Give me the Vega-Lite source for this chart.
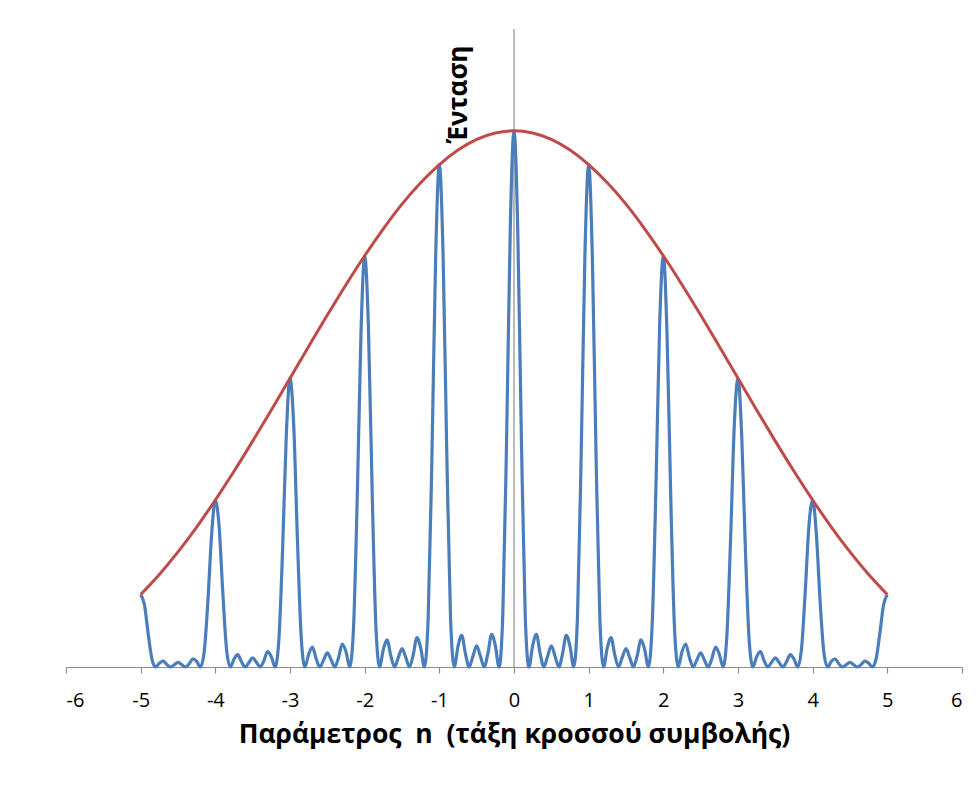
{
  "$schema": "https://vega.github.io/schema/vega-lite/v6.json",
  "width": 896,
  "height": 638,
  "autosize": {"type": "none"},
  "padding": {"left": 66, "top": 29, "right": 15, "bottom": 127},
  "background": "white",
  "config": {"view": {"stroke": null}, "font": "Open Sans"},
  "datasets": {
    "pattern": [
      {"n": -5.00, "I": 0.1351}, {"n": -4.95, "I": 0.1165}, {"n": -4.90, "I": 0.0629}, {"n": -4.85, "I": 0.0153}, {"n": -4.80, "I": 0},
      {"n": -4.75, "I": 0.0069}, {"n": -4.70, "I": 0.0111}, {"n": -4.65, "I": 0.0048}, {"n": -4.60, "I": 0}, {"n": -4.55, "I": 0.0042},
      {"n": -4.50, "I": 0.0086}, {"n": -4.45, "I": 0.0046}, {"n": -4.40, "I": 0}, {"n": -4.35, "I": 0.0061}, {"n": -4.30, "I": 0.0154},
      {"n": -4.25, "I": 0.0104}, {"n": -4.20, "I": 0}, {"n": -4.15, "I": 0.0273}, {"n": -4.10, "I": 0.1220}, {"n": -4.05, "I": 0.2463},
      {"n": -4.00, "I": 0.3114}, {"n": -3.95, "I": 0.2633}, {"n": -3.90, "I": 0.1394}, {"n": -3.85, "I": 0.0333}, {"n": -3.80, "I": 0},
      {"n": -3.75, "I": 0.0146}, {"n": -3.70, "I": 0.0230}, {"n": -3.65, "I": 0.0098}, {"n": -3.60, "I": 0}, {"n": -3.55, "I": 0.0084},
      {"n": -3.50, "I": 0.0169}, {"n": -3.45, "I": 0.0089}, {"n": -3.40, "I": 0}, {"n": -3.35, "I": 0.0115}, {"n": -3.30, "I": 0.0286},
      {"n": -3.25, "I": 0.0192}, {"n": -3.20, "I": 0}, {"n": -3.15, "I": 0.0488}, {"n": -3.10, "I": 0.2157}, {"n": -3.05, "I": 0.4305},
      {"n": -3.00, "I": 0.5386}, {"n": -2.95, "I": 0.4499}, {"n": -2.90, "I": 0.2355}, {"n": -2.85, "I": 0.0557}, {"n": -2.80, "I": 0},
      {"n": -2.75, "I": 0.0239}, {"n": -2.70, "I": 0.0373}, {"n": -2.65, "I": 0.0157}, {"n": -2.60, "I": 0}, {"n": -2.55, "I": 0.0132},
      {"n": -2.50, "I": 0.0263}, {"n": -2.45, "I": 0.0137}, {"n": -2.40, "I": 0}, {"n": -2.35, "I": 0.0174}, {"n": -2.30, "I": 0.0429},
      {"n": -2.25, "I": 0.0285}, {"n": -2.20, "I": 0}, {"n": -2.15, "I": 0.0713}, {"n": -2.10, "I": 0.3123}, {"n": -2.05, "I": 0.6181},
      {"n": -2.00, "I": 0.7671}, {"n": -1.95, "I": 0.6351}, {"n": -1.90, "I": 0.3297}, {"n": -1.85, "I": 0.0774}, {"n": -1.80, "I": 0},
      {"n": -1.75, "I": 0.0327}, {"n": -1.70, "I": 0.0505}, {"n": -1.65, "I": 0.0211}, {"n": -1.60, "I": 0}, {"n": -1.55, "I": 0.0175},
      {"n": -1.50, "I": 0.0345}, {"n": -1.45, "I": 0.0179}, {"n": -1.40, "I": 0}, {"n": -1.35, "I": 0.0224}, {"n": -1.30, "I": 0.0547},
      {"n": -1.25, "I": 0.0361}, {"n": -1.20, "I": 0}, {"n": -1.15, "I": 0.0890}, {"n": -1.10, "I": 0.3869}, {"n": -1.05, "I": 0.7603},
      {"n": -1.00, "I": 0.9371}, {"n": -0.95, "I": 0.7703}, {"n": -0.90, "I": 0.3971}, {"n": -0.85, "I": 0.0925}, {"n": -0.80, "I": 0},
      {"n": -0.75, "I": 0.0386}, {"n": -0.70, "I": 0.0592}, {"n": -0.65, "I": 0.0245}, {"n": -0.60, "I": 0}, {"n": -0.55, "I": 0.0201},
      {"n": -0.50, "I": 0.0394}, {"n": -0.45, "I": 0.0202}, {"n": -0.40, "I": 0}, {"n": -0.35, "I": 0.0250}, {"n": -0.30, "I": 0.0608},
      {"n": -0.25, "I": 0.0398}, {"n": -0.20, "I": 0}, {"n": -0.15, "I": 0.0969}, {"n": -0.10, "I": 0.4186}, {"n": -0.05, "I": 0.8171},
      {"n": 0.00, "I": 1.0000},
      {"n": 0.05, "I": 0.8171}, {"n": 0.10, "I": 0.4186}, {"n": 0.15, "I": 0.0969}, {"n": 0.20, "I": 0}, {"n": 0.25, "I": 0.0398},
      {"n": 0.30, "I": 0.0608}, {"n": 0.35, "I": 0.0250}, {"n": 0.40, "I": 0}, {"n": 0.45, "I": 0.0202}, {"n": 0.50, "I": 0.0394},
      {"n": 0.55, "I": 0.0201}, {"n": 0.60, "I": 0}, {"n": 0.65, "I": 0.0245}, {"n": 0.70, "I": 0.0592}, {"n": 0.75, "I": 0.0386},
      {"n": 0.80, "I": 0}, {"n": 0.85, "I": 0.0925}, {"n": 0.90, "I": 0.3971}, {"n": 0.95, "I": 0.7703}, {"n": 1.00, "I": 0.9371},
      {"n": 1.05, "I": 0.7603}, {"n": 1.10, "I": 0.3869}, {"n": 1.15, "I": 0.0890}, {"n": 1.20, "I": 0}, {"n": 1.25, "I": 0.0361},
      {"n": 1.30, "I": 0.0547}, {"n": 1.35, "I": 0.0224}, {"n": 1.40, "I": 0}, {"n": 1.45, "I": 0.0179}, {"n": 1.50, "I": 0.0345},
      {"n": 1.55, "I": 0.0175}, {"n": 1.60, "I": 0}, {"n": 1.65, "I": 0.0211}, {"n": 1.70, "I": 0.0505}, {"n": 1.75, "I": 0.0327},
      {"n": 1.80, "I": 0}, {"n": 1.85, "I": 0.0774}, {"n": 1.90, "I": 0.3297}, {"n": 1.95, "I": 0.6351}, {"n": 2.00, "I": 0.7671},
      {"n": 2.05, "I": 0.6181}, {"n": 2.10, "I": 0.3123}, {"n": 2.15, "I": 0.0713}, {"n": 2.20, "I": 0}, {"n": 2.25, "I": 0.0285},
      {"n": 2.30, "I": 0.0429}, {"n": 2.35, "I": 0.0174}, {"n": 2.40, "I": 0}, {"n": 2.45, "I": 0.0137}, {"n": 2.50, "I": 0.0263},
      {"n": 2.55, "I": 0.0132}, {"n": 2.60, "I": 0}, {"n": 2.65, "I": 0.0157}, {"n": 2.70, "I": 0.0373}, {"n": 2.75, "I": 0.0239},
      {"n": 2.80, "I": 0}, {"n": 2.85, "I": 0.0557}, {"n": 2.90, "I": 0.2355}, {"n": 2.95, "I": 0.4499}, {"n": 3.00, "I": 0.5386},
      {"n": 3.05, "I": 0.4305}, {"n": 3.10, "I": 0.2157}, {"n": 3.15, "I": 0.0488}, {"n": 3.20, "I": 0}, {"n": 3.25, "I": 0.0192},
      {"n": 3.30, "I": 0.0286}, {"n": 3.35, "I": 0.0115}, {"n": 3.40, "I": 0}, {"n": 3.45, "I": 0.0089}, {"n": 3.50, "I": 0.0169},
      {"n": 3.55, "I": 0.0084}, {"n": 3.60, "I": 0}, {"n": 3.65, "I": 0.0098}, {"n": 3.70, "I": 0.0230}, {"n": 3.75, "I": 0.0146},
      {"n": 3.80, "I": 0}, {"n": 3.85, "I": 0.0333}, {"n": 3.90, "I": 0.1394}, {"n": 3.95, "I": 0.2633}, {"n": 4.00, "I": 0.3114},
      {"n": 4.05, "I": 0.2463}, {"n": 4.10, "I": 0.1220}, {"n": 4.15, "I": 0.0273}, {"n": 4.20, "I": 0}, {"n": 4.25, "I": 0.0104},
      {"n": 4.30, "I": 0.0154}, {"n": 4.35, "I": 0.0061}, {"n": 4.40, "I": 0}, {"n": 4.45, "I": 0.0046}, {"n": 4.50, "I": 0.0086},
      {"n": 4.55, "I": 0.0042}, {"n": 4.60, "I": 0}, {"n": 4.65, "I": 0.0048}, {"n": 4.70, "I": 0.0111}, {"n": 4.75, "I": 0.0069},
      {"n": 4.80, "I": 0}, {"n": 4.85, "I": 0.0153}, {"n": 4.90, "I": 0.0629}, {"n": 4.95, "I": 0.1165}, {"n": 5.00, "I": 0.1351}
    ],
    "envelope": [
      {"n": -5.00, "E": 0.1351}, {"n": -4.75, "E": 0.1726}, {"n": -4.50, "E": 0.2147}, {"n": -4.25, "E": 0.2611},
      {"n": -4.00, "E": 0.3114}, {"n": -3.75, "E": 0.3650}, {"n": -3.50, "E": 0.4213}, {"n": -3.25, "E": 0.4794},
      {"n": -3.00, "E": 0.5386}, {"n": -2.75, "E": 0.5979}, {"n": -2.50, "E": 0.6564}, {"n": -2.25, "E": 0.7131},
      {"n": -2.00, "E": 0.7671}, {"n": -1.75, "E": 0.8174}, {"n": -1.50, "E": 0.8634}, {"n": -1.25, "E": 0.9032},
      {"n": -1.00, "E": 0.9371}, {"n": -0.75, "E": 0.9642}, {"n": -0.50, "E": 0.9840}, {"n": -0.25, "E": 0.9960},
      {"n": 0.00, "E": 1.0000},
      {"n": 0.25, "E": 0.9960}, {"n": 0.50, "E": 0.9840}, {"n": 0.75, "E": 0.9642}, {"n": 1.00, "E": 0.9371},
      {"n": 1.25, "E": 0.9032}, {"n": 1.50, "E": 0.8634}, {"n": 1.75, "E": 0.8174}, {"n": 2.00, "E": 0.7671},
      {"n": 2.25, "E": 0.7131}, {"n": 2.50, "E": 0.6564}, {"n": 2.75, "E": 0.5979}, {"n": 3.00, "E": 0.5386},
      {"n": 3.25, "E": 0.4794}, {"n": 3.50, "E": 0.4213}, {"n": 3.75, "E": 0.3650}, {"n": 4.00, "E": 0.3114},
      {"n": 4.25, "E": 0.2611}, {"n": 4.50, "E": 0.2147}, {"n": 4.75, "E": 0.1726}, {"n": 5.00, "E": 0.1351}
    ]
  },
  "layer": [
    {
      "data": {"values": [{}]},
      "mark": {"type": "rule", "color": "#8C8C8C", "strokeWidth": 1.2},
      "encoding": {
        "x": {"datum": 0, "type": "quantitative"},
        "y": {"datum": 0, "type": "quantitative"},
        "y2": {"datum": 1.19}
      }
    },
    {
      "data": {"name": "pattern"},
      "mark": {"type": "line", "color": "#4A7EBB", "strokeWidth": 3.2, "interpolate": "monotone", "strokeJoin": "round"},
      "encoding": {
        "x": {
          "field": "n", "type": "quantitative",
          "scale": {"domain": [-6, 6], "nice": false, "zero": false},
          "axis": {
            "title": "Παράμετρος\u00a0 n\u00a0 (τάξη κροσσού συμβολής)",
            "values": [-6, -5, -4, -3, -2, -1, 0, 1, 2, 3, 4, 5, 6],
            "labelExpr": "'' + datum.value",
            "grid": false,
            "domainColor": "#8C8C8C", "domainWidth": 1.2,
            "tickColor": "#8C8C8C", "tickWidth": 1.2, "tickSize": 6,
            "labelFontSize": 20, "labelColor": "#000000", "labelPadding": 17, "labelFont": "Open Sans",
            "titleFontSize": 26.5, "titleFontWeight": "bold", "titleColor": "#000000", "titlePadding": 11, "titleFont": "Open Sans"
          }
        },
        "y": {
          "field": "I", "type": "quantitative",
          "scale": {"domain": [0, 1.19], "nice": false},
          "axis": {
            "title": "Ένταση",
            "labels": false, "ticks": false, "domain": false, "grid": false,
            "titleX": 392, "titleY": 65, "titleAngle": -90,
            "titleAlign": "center", "titleBaseline": "middle",
            "titleFontSize": 26, "titleFontWeight": "bold", "titleColor": "#000000", "titleFont": "Open Sans"
          }
        }
      }
    },
    {
      "data": {"name": "envelope"},
      "mark": {"type": "line", "color": "#BE4B48", "strokeWidth": 3, "interpolate": "monotone"},
      "encoding": {
        "x": {"field": "n", "type": "quantitative"},
        "y": {"field": "E", "type": "quantitative"}
      }
    }
  ]
}
